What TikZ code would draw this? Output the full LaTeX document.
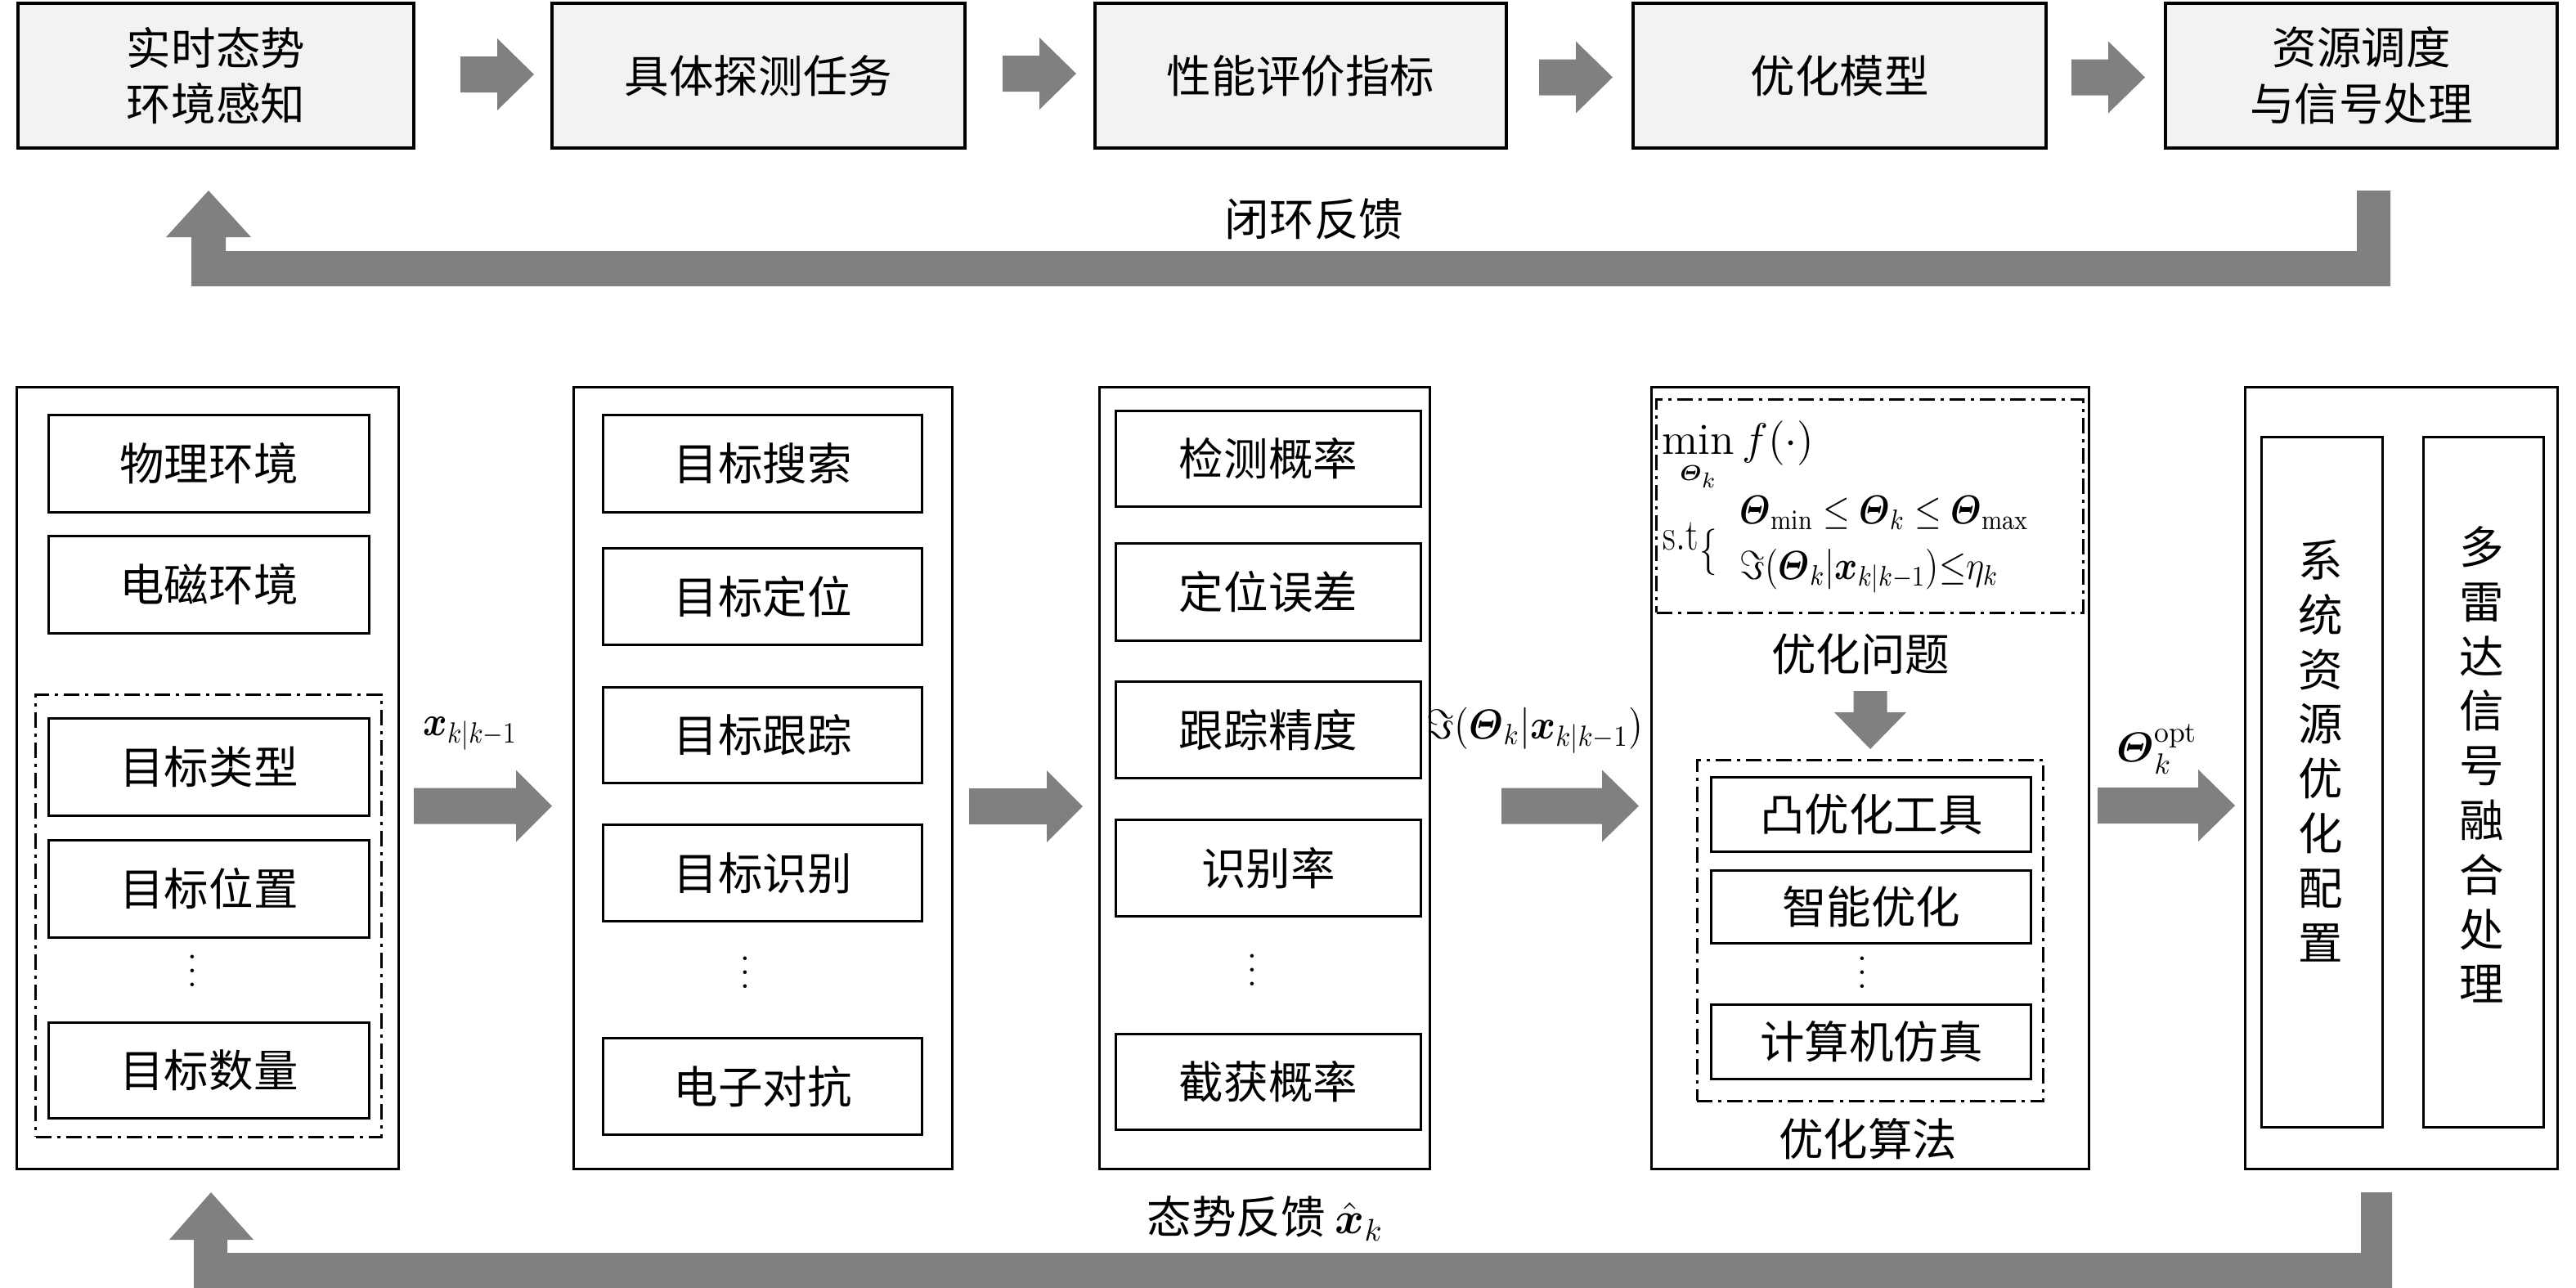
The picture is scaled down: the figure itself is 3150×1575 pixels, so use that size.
\RequirePackage{fix-cm}
\documentclass[tikz,border=0pt]{standalone}
\usepackage{amsmath,amssymb}
\usepackage{fontspec}
\newfontfamily\cjk{Noto Sans CJK SC}
\definecolor{boxfill}{RGB}{242,242,242}
\definecolor{arrowgray}{RGB}{128,128,128}
\begin{document}
\begin{tikzpicture}[x=0.01cm,y=-0.01cm,
  cn/.style={font=\cjk\fontsize{15.5}{19.5}\selectfont},
  topbox/.style={draw,line width=1pt,fill=boxfill,inner sep=0pt,outer sep=0pt,align=center,cn},
  bigbox/.style={draw,line width=0.85pt,inner sep=0pt,minimum height=9.55cm},
  itembox/.style={draw,line width=0.85pt,inner sep=0pt,cn},
  ddbox/.style={draw,line width=0.85pt,inner sep=0pt,dash pattern=on 0.19cm off 0.07cm on 0.04cm off 0.07cm},
  mth/.style={font=\fontsize{14.5}{17}\selectfont,inner sep=0pt},
  fml/.style={anchor=base west,inner sep=0pt},
  vdotnode/.style={anchor=base,inner sep=0pt},
  vtext/.style={align=center,inner sep=0pt,font=\cjk\fontsize{15.5}{19}\selectfont},
  garrow/.style={fill=arrowgray},
  pics/rarr/.style n args={2}{code={\fill[garrow] (0,-22) -- (#1,-22) -- (#1,-44) -- ({#1+#2},0) -- (#1,44) -- (#1,22) -- (0,22) -- cycle;}}
]
\useasboundingbox (0,0) rectangle (3150,1575);

% ---------- top row ----------
\node[topbox,minimum width=4.84cm,minimum height=1.77cm] (t1) at (264,92.5) {实时态势\\环境感知};
\node[topbox,minimum width=5.05cm,minimum height=1.77cm] (t2) at (927.5,92.5) {具体探测任务};
\node[topbox,minimum width=5.03cm,minimum height=1.77cm] (t3) at (1590.5,92.5) {性能评价指标};
\node[topbox,minimum width=5.05cm,minimum height=1.77cm] (t4) at (2249.5,92.5) {优化模型};
\node[topbox,minimum width=4.79cm,minimum height=1.77cm] (t5) at (2887.5,92.5) {资源调度\\与信号处理};

\pic at (563,91) {rarr={45}{45}};
\pic at (1226,90) {rarr={45}{45}};
\pic at (1882,94.5) {rarr={45}{45}};
\pic at (2533,94.5) {rarr={45}{45}};

% top feedback
\fill[garrow] (2882,233) -- (2923,233) -- (2923,350) -- (234,350) -- (234,290) -- (203,290) -- (255,233) -- (307,290) -- (276,290) -- (276,307) -- (2882,307) -- cycle;
\node[cn] (fb1) at (1607,268) {闭环反馈};

% ---------- bottom row: big boxes ----------
\node[bigbox,minimum width=4.66cm] (b1) at (254,951.5) {};
\node[bigbox,minimum width=4.62cm] (b2) at (933,951.5) {};
\node[bigbox,minimum width=4.03cm] (b3) at (1546.5,951.5) {};
\node[bigbox,minimum width=5.35cm] (b4) at (2287,951.5) {};
\node[bigbox,minimum width=3.81cm] (b5) at (2936.5,951.5) {};

% box 1 content
\node[itembox,minimum width=3.91cm,minimum height=1.18cm] (e1) at (255.5,567) {物理环境};
\node[itembox,minimum width=3.91cm,minimum height=1.18cm] (e2) at (255.5,715) {电磁环境};
\node[ddbox,minimum width=4.225cm,minimum height=5.40cm] (g1) at (255.25,1120) {};
\node[itembox,minimum width=3.91cm,minimum height=1.18cm] (e3) at (255.5,938) {目标类型};
\node[itembox,minimum width=3.91cm,minimum height=1.18cm] (e4) at (255.5,1087) {目标位置};
\node[vdotnode] (e5) at (235,1206) {\scalebox{1.2}{$\vdots$}};
\node[itembox,minimum width=3.91cm,minimum height=1.16cm] (e6) at (255.5,1309) {目标数量};

% box 2 content
\node[itembox,minimum width=3.895cm,minimum height=1.18cm] (m1) at (932.75,567) {目标搜索};
\node[itembox,minimum width=3.895cm,minimum height=1.17cm] (m2) at (932.75,729.5) {目标定位};
\node[itembox,minimum width=3.895cm,minimum height=1.16cm] (m3) at (932.75,899) {目标跟踪};
\node[itembox,minimum width=3.895cm,minimum height=1.18cm] (m4) at (932.75,1067.5) {目标识别};
\node[vdotnode] (m5) at (911.5,1208) {\scalebox{1.2}{$\vdots$}};
\node[itembox,minimum width=3.895cm,minimum height=1.17cm] (m6) at (932.75,1328.5) {电子对抗};

% box 3 content
\node[itembox,minimum width=3.72cm,minimum height=1.165cm] (p1) at (1551,561) {检测概率};
\node[itembox,minimum width=3.72cm,minimum height=1.18cm] (p2) at (1551,724) {定位误差};
\node[itembox,minimum width=3.72cm,minimum height=1.17cm] (p3) at (1551,892.5) {跟踪精度};
\node[itembox,minimum width=3.72cm,minimum height=1.17cm] (p4) at (1551,1061.5) {识别率};
\node[vdotnode] (p5) at (1531,1205) {\scalebox{1.2}{$\vdots$}};
\node[itembox,minimum width=3.72cm,minimum height=1.165cm] (p6) at (1551,1323) {截获概率};

% box 4 content
\node[ddbox,minimum width=5.21cm,minimum height=2.60cm] (g2) at (2286.5,619) {};
\node[fml,font=\fontsize{14.4}{17}\selectfont] (frm1) at (2032,555)
 {\scalebox{1.07}{$\displaystyle\min_{\scriptscriptstyle\boldsymbol{\varTheta}_k} f(\cdot)$}};
\node[fml,font=\fontsize{15.5}{18}\selectfont] (frm2) at (2033,672) {\scalebox{0.8}[1]{$\mathrm{s.t}$}};
\node[fml,font=\fontsize{14.4}{17}\selectfont] (frm3) at (2078,689) {\scalebox{0.85}[1.12]{$\{$}};
\node[fml,font=\fontsize{13.5}{17}\selectfont] (frm4) at (2127,640)
 {\scalebox{0.885}[1.04]{$\boldsymbol{\varTheta}_{\min}\le\boldsymbol{\varTheta}_k\le\boldsymbol{\varTheta}_{\max}$}};
\node[fml,font=\fontsize{13.5}{17}\selectfont] (frm5) at (2127,708)
 {\scalebox{0.9}[1.04]{$\Im(\boldsymbol{\varTheta}_k|\boldsymbol{x}_{k|k-1}){\le}\eta_k$}};
\node[cn] (q1) at (2275,800) {优化问题};
\fill[garrow] (2266.5,845) -- (2307.5,845) -- (2307.5,871) -- (2331,871) -- (2287,916) -- (2243,871) -- (2266.5,871) -- cycle;
\node[ddbox,minimum width=4.23cm,minimum height=4.165cm] (g3) at (2287,1138) {};
\node[itembox,minimum width=3.907cm,minimum height=0.906cm] (o1) at (2288.4,996) {凸优化工具};
\node[itembox,minimum width=3.907cm,minimum height=0.894cm] (o2) at (2288.4,1109) {智能优化};
\node[vdotnode] (o3) at (2277,1208) {\scalebox{1.2}{$\vdots$}};
\node[itembox,minimum width=3.907cm,minimum height=0.905cm] (o4) at (2288.4,1274) {计算机仿真};
\node[cn] (q2) at (2284,1393) {优化算法};

% box 5 content
\node[itembox,minimum width=1.47cm,minimum height=8.43cm] (r1) at (2839.5,956.5) {};
\node[itembox,minimum width=1.475cm,minimum height=8.43cm] (r2) at (3037,956.5) {};
\node[vtext] (r1t) at (2838,918) {系\\统\\资\\源\\优\\化\\配\\置};
\node[vtext] (r2t) at (3035,935) {多\\雷\\达\\信\\号\\融\\合\\处\\理};

% bottom arrows and labels
\pic at (506,985.5) {rarr={125}{44}};
\pic at (1185,986) {rarr={95}{44}};
\pic at (1836,985.5) {rarr={123}{45}};
\pic at (2565,985) {rarr={123}{45}};
\node[mth] (lx) at (575,897) {\scalebox{0.88}[1]{$\boldsymbol{x}_{k|k-1}$}};
\node[mth] (li) at (1877,893) {\scalebox{0.92}[1]{$\Im(\boldsymbol{\varTheta}_k|\boldsymbol{x}_{k|k-1})$}};
\node[mth] (lt) at (2638,916) {$\boldsymbol{\varTheta}_k^{\mathrm{opt}}$};

% bottom feedback
\fill[garrow] (2887,1458) -- (2925,1458) -- (2925,1575) -- (237,1575) -- (237,1516) -- (207,1516) -- (258,1458) -- (310,1516) -- (278,1516) -- (278,1532) -- (2887,1532) -- cycle;
\node[cn] (fb2) at (1547,1490) {态势反馈 $\hat{\boldsymbol{x}}_k$};
\end{tikzpicture}
\end{document}
